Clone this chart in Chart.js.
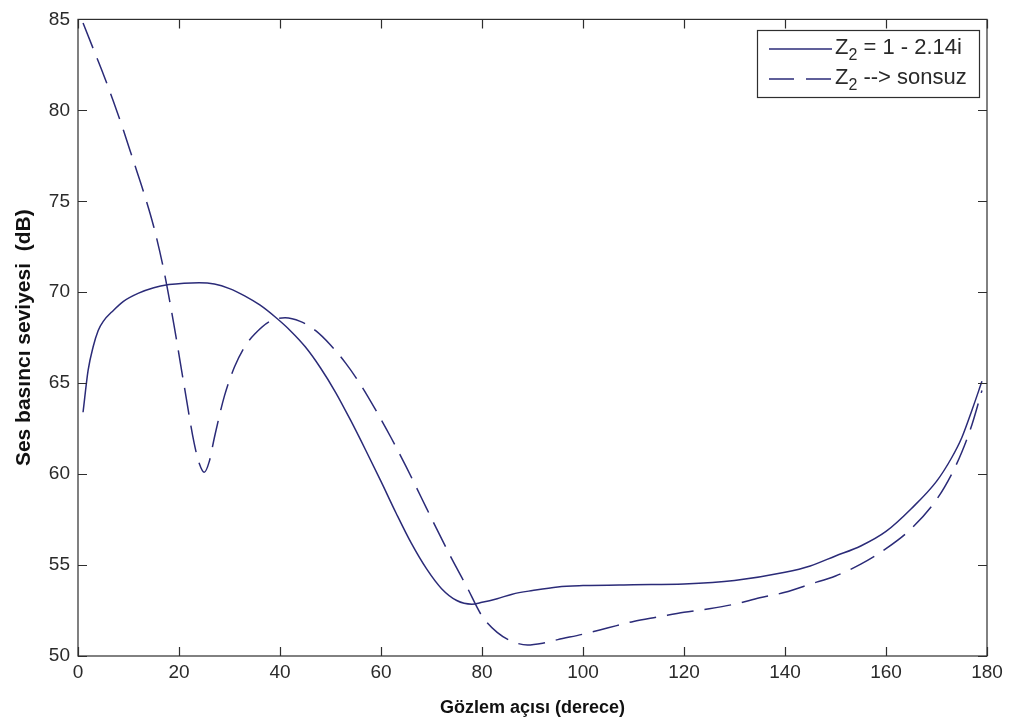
<!DOCTYPE html>
<html>
<head>
<meta charset="utf-8">
<script src="https://cdn.jsdelivr.net/npm/chart.js@4.4.1/dist/chart.umd.min.js"></script>
<style>
  html, body { margin: 0; padding: 0; background: #ffffff; }
  #wrap { width: 1017px; height: 724px; }
</style>
</head>
<body>
<div id="wrap"><canvas id="chart" width="1017" height="724"></canvas></div>
<script>
// angles (derece) and levels (dB)
const solidX = [1, 2, 3, 4, 5, 7, 9, 12, 15, 18, 21, 24, 27, 30, 33, 36, 39, 42, 45, 48, 51, 54, 57, 60, 63, 66, 69, 72, 75, 78, 80, 83, 86, 90, 95, 100, 110, 120, 130, 140, 145, 150, 155, 160, 165, 170, 173, 175, 177, 179];
const solidY = [63.4, 65.7, 67.0, 67.9, 68.4, 69.0, 69.5, 69.95, 70.25, 70.42, 70.5, 70.52, 70.45, 70.2, 69.8, 69.3, 68.65, 67.9, 67.0, 65.85, 64.5, 62.95, 61.3, 59.6, 57.85, 56.2, 54.8, 53.7, 53.05, 52.85, 52.95, 53.15, 53.4, 53.6, 53.8, 53.87, 53.92, 53.96, 54.15, 54.6, 54.95, 55.5, 56.05, 56.85, 58.1, 59.6, 60.9, 62.0, 63.5, 65.1];

const dashX = [1, 3, 5, 7, 9, 11, 13, 15, 17, 19, 21, 23, 24, 25, 26, 27, 29, 31, 33, 35, 38, 41, 44, 47, 50, 53, 56, 59, 62, 65, 68, 71, 74, 77, 80, 83, 86, 89, 92, 95, 100, 105, 110, 115, 120, 125, 130, 135, 140, 145, 150, 155, 160, 165, 170, 173, 175, 177, 179];
const dashY = [84.8, 83.4, 82.0, 80.5, 78.9, 77.2, 75.5, 73.6, 71.2, 68.2, 64.9, 61.7, 60.6, 60.1, 60.7, 62.0, 64.3, 65.9, 67.0, 67.7, 68.4, 68.6, 68.4, 67.9, 67.1, 66.1, 64.9, 63.5, 62.0, 60.4, 58.7, 57.0, 55.35, 53.8, 52.2, 51.3, 50.8, 50.6, 50.7, 50.9, 51.2, 51.55, 51.9, 52.15, 52.4, 52.6, 52.85, 53.2, 53.5, 53.95, 54.4, 55.05, 55.9, 57.0, 58.6, 60.0, 61.2, 62.7, 64.6];

const xTicks = [0, 20, 40, 60, 80, 100, 120, 140, 160, 180];
const yTicks = [50, 55, 60, 65, 70, 75, 80, 85];

// legend text pieces: Z, subscript 2, rest
const legendMain = ["Z", "Z"];
const legendSub = ["2", "2"];
const legendRest = [" = 1 - 2.14i", " --> sonsuz"];

const lineColor = "#2b2b78";
const axisColor = "#2e2e2e";
const textColor = "#2a2a2a";
const dashPattern = [27, 11];
const fontFamily = "'Liberation Sans', Arial, sans-serif";

function pairs(xs, ys) {
  return xs.map((x, i) => ({ x, y: ys[i] }));
}

// box around the axes with MATLAB-like inward ticks on all four sides
const boxTicks = {
  id: "boxTicks",
  afterDraw(chart) {
    const { ctx, chartArea: a, scales } = chart;
    ctx.save();
    ctx.strokeStyle = axisColor;
    ctx.lineWidth = 1.2;
    ctx.strokeRect(a.left, a.top, a.right - a.left, a.bottom - a.top);
    ctx.beginPath();
    xTicks.forEach(v => {
      const px = Math.round(scales.x.getPixelForValue(v)) + 0.5;
      ctx.moveTo(px, a.bottom); ctx.lineTo(px, a.bottom - 9);
      ctx.moveTo(px, a.top); ctx.lineTo(px, a.top + 9);
    });
    yTicks.forEach(v => {
      const py = Math.round(scales.y.getPixelForValue(v)) + 0.5;
      ctx.moveTo(a.left, py); ctx.lineTo(a.left + 9, py);
      ctx.moveTo(a.right, py); ctx.lineTo(a.right - 9, py);
    });
    ctx.stroke();

    // legend box, top right
    const bx = 757, by = 30, bw = 222, bh = 67;
    ctx.fillStyle = "#ffffff";
    ctx.fillRect(bx, by, bw, bh);
    ctx.lineWidth = 1.2;
    ctx.strokeRect(bx + 0.5, by + 0.5, bw, bh);
    const rows = [48, 78];
    rows.forEach((ry, i) => {
      ctx.strokeStyle = lineColor;
      ctx.lineWidth = 1.5;
      ctx.setLineDash(i === 1 ? [25, 12] : []);
      ctx.beginPath();
      ctx.moveTo(769, ry + 1); ctx.lineTo(832, ry + 1);
      ctx.stroke();
      ctx.setLineDash([]);
      ctx.fillStyle = textColor;
      ctx.textBaseline = "middle";
      ctx.textAlign = "left";
      ctx.font = "22px " + fontFamily;
      let tx = 835;
      ctx.fillText(legendMain[i], tx, ry);
      tx += ctx.measureText(legendMain[i]).width;
      ctx.font = "16px " + fontFamily;
      ctx.fillText(legendSub[i], tx, ry + 8);
      tx += ctx.measureText(legendSub[i]).width;
      ctx.font = "22px " + fontFamily;
      ctx.fillText(legendRest[i], tx, ry);
    });
    ctx.restore();
  }
};

const whiteBg = {
  id: "whiteBg",
  beforeDraw(chart) {
    const ctx = chart.ctx;
    ctx.save();
    ctx.fillStyle = "#ffffff";
    ctx.fillRect(0, 0, chart.width, chart.height);
    ctx.restore();
  }
};

new Chart(document.getElementById("chart").getContext("2d"), {
  type: "scatter",
  data: {
    datasets: [
      {
        label: "Z2 = 1 - 2.14i",
        data: pairs(solidX, solidY),
        showLine: true,
        borderColor: lineColor,
        borderWidth: 1.5,
        pointRadius: 0,
        cubicInterpolationMode: "monotone"
      },
      {
        label: "Z2 --> sonsuz",
        data: pairs(dashX, dashY),
        showLine: true,
        borderColor: lineColor,
        borderWidth: 1.5,
        borderDash: dashPattern,
        pointRadius: 0,
        cubicInterpolationMode: "monotone"
      }
    ]
  },
  options: {
    responsive: false,
    animation: false,
    layout: { padding: { top: 14, right: 30, left: 0, bottom: 0 } },
    plugins: {
      legend: { display: false },
      tooltip: { enabled: false }
    },
    scales: {
      x: {
        type: "linear",
        min: 0,
        max: 180,
        afterBuildTicks(scale) { scale.ticks = xTicks.map(v => ({ value: v })); },
        afterFit(scale) { scale.height = 68; },
        grid: { display: false, drawTicks: false },
        border: { display: false },
        ticks: {
          color: textColor,
          padding: 5,
          font: { family: fontFamily, size: 19 }
        },
        title: {
          display: true,
          text: "Gözlem açısı (derece)",
          color: "#111111",
          padding: { top: 0, bottom: 5 },
          font: { family: fontFamily, size: 18, weight: "bold" }
        }
      },
      y: {
        type: "linear",
        min: 50,
        max: 85,
        afterBuildTicks(scale) { scale.ticks = yTicks.map(v => ({ value: v })); },
        afterFit(scale) { scale.width = 78; },
        grid: { display: false, drawTicks: false },
        border: { display: false },
        ticks: {
          color: textColor,
          padding: 8,
          font: { family: fontFamily, size: 19 }
        },
        title: {
          display: true,
          text: "Ses basıncı seviyesi  (dB)",
          color: "#111111",
          padding: { top: 12, bottom: 0 },
          font: { family: fontFamily, size: 21, weight: "bold" }
        }
      }
    }
  },
  plugins: [whiteBg, boxTicks]
});
</script>
</body>
</html>
